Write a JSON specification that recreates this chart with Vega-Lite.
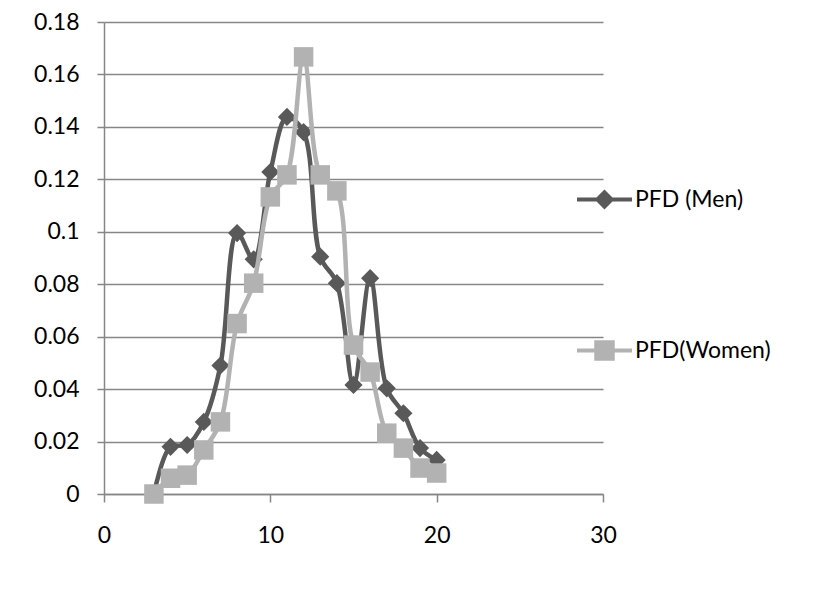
{
  "$schema": "https://vega.github.io/schema/vega-lite/v6.json",
  "width": 499,
  "height": 472,
  "autosize": {"type": "none"},
  "padding": {"left": 104, "top": 22, "right": 230, "bottom": 116},
  "background": "white",
  "config": {"font": "Lato", "view": {"stroke": null}},
  "data": {
    "values": [
      {"x": 3, "y": 0.0, "series": "PFD (Men)"},
      {"x": 4, "y": 0.018, "series": "PFD (Men)"},
      {"x": 5, "y": 0.0187, "series": "PFD (Men)"},
      {"x": 6, "y": 0.0275, "series": "PFD (Men)"},
      {"x": 7, "y": 0.049, "series": "PFD (Men)"},
      {"x": 8, "y": 0.0995, "series": "PFD (Men)"},
      {"x": 9, "y": 0.0895, "series": "PFD (Men)"},
      {"x": 10, "y": 0.1228, "series": "PFD (Men)"},
      {"x": 11, "y": 0.1438, "series": "PFD (Men)"},
      {"x": 12, "y": 0.138, "series": "PFD (Men)"},
      {"x": 13, "y": 0.0905, "series": "PFD (Men)"},
      {"x": 14, "y": 0.0804, "series": "PFD (Men)"},
      {"x": 15, "y": 0.0416, "series": "PFD (Men)"},
      {"x": 16, "y": 0.0823, "series": "PFD (Men)"},
      {"x": 17, "y": 0.0403, "series": "PFD (Men)"},
      {"x": 18, "y": 0.0308, "series": "PFD (Men)"},
      {"x": 19, "y": 0.0175, "series": "PFD (Men)"},
      {"x": 20, "y": 0.013, "series": "PFD (Men)"},
      {"x": 3, "y": 0.0, "series": "PFD(Women)"},
      {"x": 4, "y": 0.006, "series": "PFD(Women)"},
      {"x": 5, "y": 0.0072, "series": "PFD(Women)"},
      {"x": 6, "y": 0.0168, "series": "PFD(Women)"},
      {"x": 7, "y": 0.0275, "series": "PFD(Women)"},
      {"x": 8, "y": 0.065, "series": "PFD(Women)"},
      {"x": 9, "y": 0.0804, "series": "PFD(Women)"},
      {"x": 10, "y": 0.1133, "series": "PFD(Women)"},
      {"x": 11, "y": 0.1217, "series": "PFD(Women)"},
      {"x": 12, "y": 0.1667, "series": "PFD(Women)"},
      {"x": 13, "y": 0.1217, "series": "PFD(Women)"},
      {"x": 14, "y": 0.1156, "series": "PFD(Women)"},
      {"x": 15, "y": 0.0568, "series": "PFD(Women)"},
      {"x": 16, "y": 0.0465, "series": "PFD(Women)"},
      {"x": 17, "y": 0.0232, "series": "PFD(Women)"},
      {"x": 18, "y": 0.0175, "series": "PFD(Women)"},
      {"x": 19, "y": 0.0099, "series": "PFD(Women)"},
      {"x": 20, "y": 0.008, "series": "PFD(Women)"}
    ]
  },
  "encoding": {
    "x": {
      "field": "x", "type": "quantitative",
      "scale": {"domain": [0, 30], "nice": false, "zero": false},
      "axis": {
        "title": null, "values": [0, 10, 20, 30], "grid": false,
        "labelFlush": false,
        "domainColor": "#868686", "domainWidth": 1.5,
        "tickColor": "#868686", "tickWidth": 1.5, "tickSize": 8,
        "labelFontSize": 23, "labelColor": "black", "labelPadding": 22
      }
    },
    "y": {
      "field": "y", "type": "quantitative",
      "scale": {"domain": [0, 0.18], "nice": false},
      "axis": {
        "title": null,
        "values": [0, 0.02, 0.04, 0.06, 0.08, 0.1, 0.12, 0.14, 0.16, 0.18],
        "format": ".2~f",
        "grid": true, "gridColor": "#868686", "gridWidth": 1.5,
        "domainColor": "#868686", "domainWidth": 1.5,
        "tickColor": "#868686", "tickWidth": 1.5, "tickSize": 7,
        "labelFontSize": 23, "labelColor": "black", "labelPadding": 18
      }
    },
    "color": {
      "field": "series", "type": "nominal",
      "scale": {"domain": ["PFD (Men)", "PFD(Women)"], "range": ["#595959", "#b2b2b2"]},
      "legend": {
        "title": null, "orient": "none", "legendX": 471, "legendY": 148,
        "symbolSize": 3025, "rowPadding": 106,
        "labelFontSize": 23, "labelColor": "black", "labelOffset": 1,
        "symbolStrokeWidth": 4,
        "encode": {
          "symbols": {
            "update": {
              "shape": {"signal": "datum.value === 'PFD (Men)' ? 'M-1,0H1M-0.26,0L0,-0.26L0.26,0L0,0.26Z' : 'M-1,0H1M-0.3,-0.3H0.3V0.3H-0.3Z'"},
              "fill": {"signal": "datum.value === 'PFD (Men)' ? '#595959' : '#b2b2b2'"},
              "stroke": {"signal": "datum.value === 'PFD (Men)' ? '#595959' : '#b2b2b2'"},
              "strokeWidth": {"value": 4},
              "opacity": {"value": 1}
            }
          }
        }
      }
    }
  },
  "layer": [
    {
      "transform": [{"filter": "datum.series === 'PFD (Men)'"}],
      "mark": {"type": "line", "interpolate": "catmull-rom", "strokeWidth": 4.5}
    },
    {
      "transform": [{"filter": "datum.series === 'PFD (Men)'"}],
      "mark": {"type": "point", "shape": "diamond", "filled": true, "size": 330, "opacity": 1}
    },
    {
      "transform": [{"filter": "datum.series === 'PFD(Women)'"}],
      "mark": {"type": "line", "interpolate": "catmull-rom", "strokeWidth": 4.5}
    },
    {
      "transform": [{"filter": "datum.series === 'PFD(Women)'"}],
      "mark": {"type": "point", "shape": "square", "filled": true, "size": 380, "opacity": 1}
    }
  ]
}
